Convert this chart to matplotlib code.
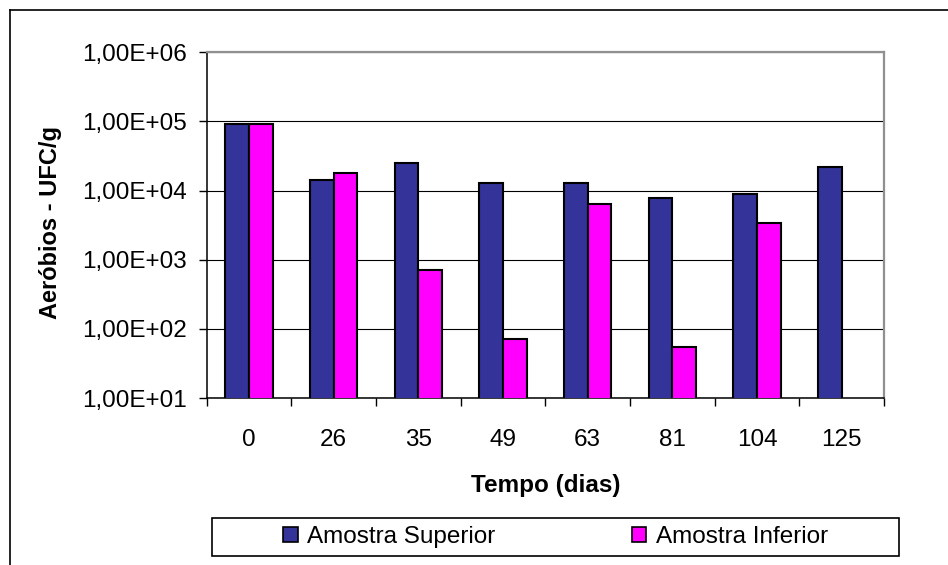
import matplotlib.pyplot as plt
import numpy as np
from matplotlib.lines import Line2D
from matplotlib.patches import Patch, Rectangle
from matplotlib.ticker import FixedLocator, FuncFormatter, NullLocator

plt.rcParams["font.family"] = ["Liberation Sans", "DejaVu Sans"]

# data
days = ["0", "26", "35", "49", "63", "81", "104", "125"]
superior = [9.3e4, 1.4e4, 2.5e4, 1.3e4, 1.3e4, 7.7e3, 8.8e3, 2.2e4]
inferior = [9.3e4, 1.8e4, 7.2e2, 71, 6.3e3, 55, 3.45e3, np.nan]

blue = "#333399"
magenta = "#FF00FF"
W, H = 948, 565
font_size = 17.5

fig = plt.figure(figsize=(W / 100, H / 100), dpi=100)

# outer chart frame (left and top edges only visible)
fig.add_artist(Line2D([10 / W, 10 / W], [0, 1 - 10 / H], color="black", lw=1.2))
fig.add_artist(Line2D([10 / W, 1], [1 - 10 / H, 1 - 10 / H], color="black", lw=1.2))

ax = fig.add_axes([206.7 / W, 1 - 398 / H, (884 - 206.7) / W, (398 - 52.3) / H])

x = np.arange(len(days))
width = 0.28
ax.bar(x - width / 2, superior, width, bottom=0, color=blue,
       edgecolor="black", linewidth=1.5, zorder=3, label="Amostra Superior")
ax.bar(x + width / 2, inferior, width, bottom=0, color=magenta,
       edgecolor="black", linewidth=1.5, zorder=3, label="Amostra Inferior")

ax.set_yscale("log")
ax.set_ylim(10, 1e6)
ax.set_xlim(-0.5, len(days) - 0.5)

ax.yaxis.set_major_locator(FixedLocator([10.0 ** k for k in range(1, 7)]))
ax.yaxis.set_minor_locator(NullLocator())
ax.yaxis.set_major_formatter(
    FuncFormatter(lambda v, _: f"1,00E+{int(round(np.log10(v))):02d}"))
ax.grid(axis="y", color="black", linewidth=0.8, zorder=0)

# category labels at centres, tick marks at boundaries
ax.set_xticks(x)
ax.set_xticklabels(days)
ax.set_xticks(np.arange(len(days) + 1) - 0.5, minor=True)
ax.tick_params(axis="x", which="major", length=0, pad=22, labelsize=font_size)
ax.tick_params(axis="x", which="minor", length=5.5, width=1, direction="out")
ax.tick_params(axis="y", length=5.5, width=1, direction="out", pad=9,
               labelsize=font_size)

for side in ("top", "right"):
    ax.spines[side].set_color("#909090")
    ax.spines[side].set_linewidth(1.6)
for side in ("left", "bottom"):
    ax.spines[side].set_color("black")
    ax.spines[side].set_linewidth(1.1)

ax.set_xlabel("Tempo (dias)", fontsize=font_size, fontweight="bold", labelpad=17)
ax.set_ylabel("Aeróbios - UFC/g", fontsize=17, fontweight="bold")
ax.yaxis.set_label_coords(62 / W, 1 - 222 / H, transform=fig.transFigure)

# legend box
fig.add_artist(Rectangle((212 / W, 1 - 556 / H), (899 - 212) / W, (556 - 517.5) / H,
                         transform=fig.transFigure, facecolor="white",
                         edgecolor="black", lw=1.2))
handles = [Patch(facecolor=blue, edgecolor="black", linewidth=1.2),
           Patch(facecolor=magenta, edgecolor="black", linewidth=1.2)]
fig.legend(handles, ["Amostra Superior", "Amostra Inferior"],
           loc="center", bbox_to_anchor=((212 + 899) / 2 / W, 1 - 537 / H),
           ncol=2, frameon=False, fontsize=font_size, handlelength=0.6,
           handleheight=0.6, handletextpad=0.4, columnspacing=5.6)

fig.savefig("out.png", dpi=100)
